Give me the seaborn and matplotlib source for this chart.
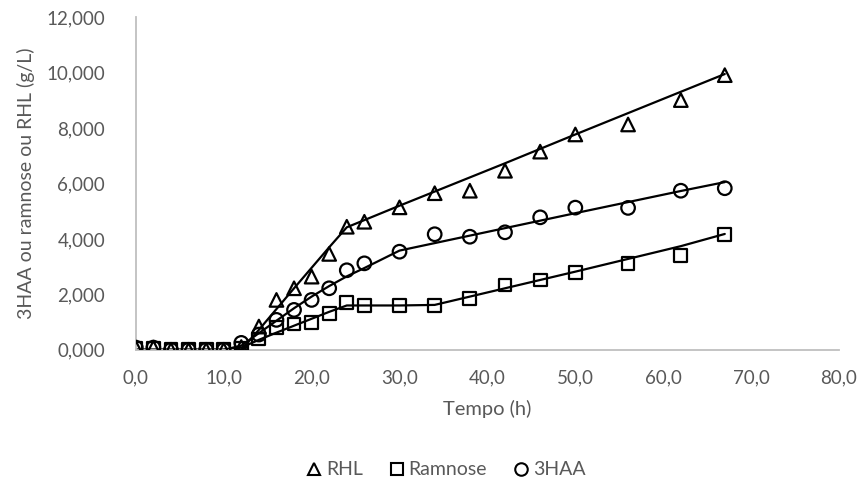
import matplotlib
matplotlib.use("Agg")
import matplotlib.pyplot as plt
from matplotlib.lines import Line2D
import seaborn as sns
import pandas as pd

# ---- data (g/L vs hours) ----
time = [0, 2, 4, 6, 8, 10, 12, 14, 16, 18, 20, 22, 24, 26, 30, 34, 38, 42, 46, 50, 56, 62, 67]
rhl = [0.08, 0.08, 0.0, 0.0, 0.0, 0.0, 0.10, 0.84, 1.80, 2.22, 2.64, 3.46, 4.44, 4.62, 5.14, 5.65,
       5.74, 6.46, 7.15, 7.77, 8.13, 9.01, 9.91]
ramnose = [0.06, 0.06, 0.0, 0.0, 0.0, 0.0, 0.05, 0.39, 0.80, 0.93, 0.98, 1.32, 1.72, 1.60, 1.60, 1.60,
           1.85, 2.34, 2.52, 2.80, 3.10, 3.39, 4.17]
haa = [0.08, 0.08, 0.0, 0.0, 0.0, 0.0, 0.25, 0.55, 1.08, 1.44, 1.80, 2.22, 2.87, 3.12, 3.54, 4.17,
       4.08, 4.24, 4.78, 5.13, 5.12, 5.74, 5.83]

# fitted model curves
rhl_fit = [0, 0, 0, 0, 0, 0, 0.0, 0.72, 1.47, 2.22, 2.96, 3.70, 4.42, 4.68, 5.20, 5.71,
           6.22, 6.73, 7.25, 7.77, 8.54, 9.31, 9.95]
ramnose_fit = [0, 0, 0, 0, 0, 0, 0.08, 0.36, 0.62, 0.87, 1.12, 1.37, 1.60, 1.60, 1.60, 1.62,
               1.92, 2.22, 2.52, 2.82, 3.28, 3.74, 4.18]
haa_fit = [0, 0, 0, 0, 0, 0, 0.15, 0.60, 1.05, 1.50, 1.92, 2.30, 2.65, 2.95, 3.58, 3.85,
           4.12, 4.39, 4.66, 4.93, 5.33, 5.73, 6.05]

series = ["RHL", "Ramnose", "3HAA"]
markers = {"RHL": "^", "Ramnose": "s", "3HAA": "o"}
x_ticks = [0, 10, 20, 30, 40, 50, 60, 70, 80]
y_ticks = [0, 2, 4, 6, 8, 10, 12]

obs = pd.DataFrame({
    "t": time * 3,
    "v": rhl + ramnose + haa,
    "s": ["RHL"] * len(time) + ["Ramnose"] * len(time) + ["3HAA"] * len(time),
})
fit = pd.DataFrame({
    "t": time * 3,
    "v": rhl_fit + ramnose_fit + haa_fit,
    "s": ["RHL"] * len(time) + ["Ramnose"] * len(time) + ["3HAA"] * len(time),
})

sns.set_style("white")
plt.rcParams["font.family"] = ["Lato", "DejaVu Sans"]

fig = plt.figure(figsize=(8.65, 4.92), dpi=100)
ax = fig.add_axes([0.157, 0.289, 0.813, 0.676])

sns.lineplot(data=fit, x="t", y="v", hue="s", palette={k: "black" for k in series},
             linewidth=1.6, legend=False, ax=ax, zorder=2)
for s in series:
    d = obs[obs["s"] == s]
    sns.scatterplot(data=d, x="t", y="v", marker=markers[s], s=95 if s != "Ramnose" else 85,
                    facecolor="none", edgecolor="black", linewidth=1.6, legend=False,
                    ax=ax, zorder=3)

ax.set_xlim(0, 80)
ax.set_ylim(0, 12)
ax.set_xticks(x_ticks)
ax.set_yticks(y_ticks)
ax.set_xticklabels([f"{v:.1f}".replace(".", ",") for v in x_ticks])
ax.set_yticklabels([f"{v:.3f}".replace(".", ",") for v in y_ticks])
ax.tick_params(axis="both", length=0, labelsize=13.5, colors="#595959")
ax.tick_params(axis="y", pad=22)
ax.tick_params(axis="x", pad=14)
for side in ["top", "right"]:
    ax.spines[side].set_visible(False)
for side in ["left", "bottom"]:
    ax.spines[side].set_color("#BFBFBF")
    ax.spines[side].set_linewidth(1.3)
ax.grid(False)

ax.set_xlabel("Tempo (h)", fontsize=14.5, color="#595959", labelpad=10)
ax.set_ylabel("3HAA ou ramnose ou RHL (g/L)", fontsize=14, color="#595959", labelpad=8)

handles = [Line2D([], [], linestyle="none", marker=markers[s], markersize=9,
                  markerfacecolor="none", markeredgecolor="black", markeredgewidth=1.5)
           for s in series]
fig.legend(handles, series, loc="center", bbox_to_anchor=(0.515, 0.045), ncol=3,
           frameon=False, fontsize=14, handletextpad=0.15, columnspacing=1.3,
           labelcolor="#595959", handlelength=0.9)

fig.savefig("out.png", dpi=100)
